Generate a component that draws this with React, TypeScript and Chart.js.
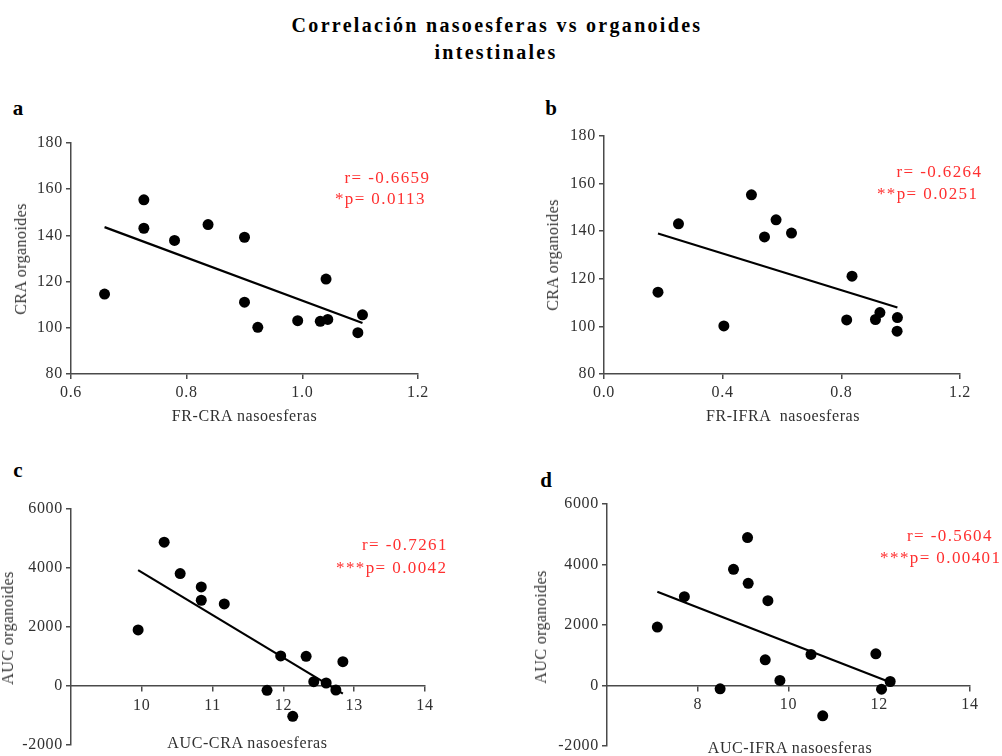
import { useEffect, useRef } from "react";
import { Chart, registerables } from "chart.js";

Chart.register(...registerables);

// Panel a: FR-CRA nasoesferas vs CRA organoides
const frCraNaso = [0.658, 0.726, 0.726, 0.779, 0.837, 0.9, 0.9, 0.923, 0.992, 1.031, 1.044, 1.041, 1.096, 1.104];
const craOrgA = [114.6, 155.4, 143.1, 137.8, 144.7, 139.2, 111.1, 100.2, 103.1, 102.8, 103.6, 121.1, 97.9, 105.6];

// Panel b: FR-IFRA nasoesferas vs CRA organoides
const frIfraNaso = [0.182, 0.251, 0.404, 0.497, 0.541, 0.58, 0.632, 0.836, 0.818, 0.915, 0.93, 0.989, 0.988];
const craOrgB = [114.4, 143.1, 100.2, 155.3, 137.6, 144.8, 139.2, 121.1, 102.7, 102.9, 105.8, 103.7, 98.0];

// Panel c: AUC-CRA nasoesferas vs AUC organoides
const aucCraNaso = [9.948, 10.316, 10.542, 10.84, 10.84, 11.165, 11.962, 12.321, 12.84, 12.429, 12.604, 12.741, 11.769, 12.132];
const aucOrgC = [1900, 4876, 3812, 3360, 2907, 2783, 1018, 1007, 826, 147, 102, -136, -147, -1029];

// Panel d: AUC-IFRA nasoesferas vs AUC organoides
const aucIfraNaso = [7.109, 7.705, 8.493, 8.788, 9.097, 9.112, 9.546, 9.487, 9.811, 10.496, 10.754, 11.925, 12.05, 12.241];
const aucOrgD = [1932, 2936, -110, 3841, 4890, 3377, 2803, 850, 166, 1026, -1004, 1049, -121, 132];

// Tick values
const ticksFrCra = [0.6, 0.8, 1.0, 1.2];
const ticksFrIfra = [0.0, 0.4, 0.8, 1.2];
const ticksCra = [80, 100, 120, 140, 160, 180];
const ticksAucCra = [10, 11, 12, 13, 14];
const ticksAucIfra = [8, 10, 12, 14];
const ticksAuc = [-2000, 0, 2000, 4000, 6000];

// Correlation statistics
const statsA = ["r= -0.6659", "*p= 0.0113"];
const statsB = ["r= -0.6264", "**p= 0.0251"];
const statsC = ["r= -0.7261", "***p= 0.0042"];
const statsD = ["r= -0.5604", "***p= 0.00401"];

const SERIF = "'Liberation Serif', 'Times New Roman', serif";
const AXIS_COLOR = "#4a4a4a";
const TEXT_COLOR = "#303030";
const RED = "#ff3030";

// Least-squares line across the observed x range
function fitLine(xs: number[], ys: number[]) {
  const n = xs.length;
  const mx = xs.reduce((a, b) => a + b, 0) / n;
  const my = ys.reduce((a, b) => a + b, 0) / n;
  let sxy = 0;
  let sxx = 0;
  for (let i = 0; i < n; i++) {
    sxy += (xs[i] - mx) * (ys[i] - my);
    sxx += (xs[i] - mx) * (xs[i] - mx);
  }
  const slope = sxy / sxx;
  const x0 = Math.min(...xs);
  const x1 = Math.max(...xs);
  return [
    { x: x0, y: my + slope * (x0 - mx) },
    { x: x1, y: my + slope * (x1 - mx) },
  ];
}

const tickSpacing = {
  id: "tickSpacing",
  beforeDraw(chart: any) {
    chart.ctx.letterSpacing = "0.7px";
  },
};

type PanelProps = {
  xs: number[];
  ys: number[];
  xTicks: number[];
  yTicks: number[];
  xMin: number;
  xMax: number;
  yMin: number;
  yMax: number;
  xDecimals: number;
  xAtZero: boolean;
  box: { left: number; top: number; width: number; height: number };
};

function ScatterPanel(p: PanelProps) {
  const ref = useRef<HTMLCanvasElement>(null);

  useEffect(() => {
    const tickFont = { family: SERIF, size: 16 };
    const gridOpts = {
      display: true,
      drawOnChartArea: false,
      drawTicks: true,
      tickLength: 5,
      color: AXIS_COLOR,
      lineWidth: 1.5,
    };
    const chart = new Chart(ref.current as HTMLCanvasElement, {
      type: "scatter",
      data: {
        datasets: [
          {
            data: fitLine(p.xs, p.ys),
            showLine: true,
            borderColor: "#000000",
            borderWidth: 2.2,
            pointRadius: 0,
            pointHoverRadius: 0,
            clip: false,
            order: 1,
          } as any,
          {
            data: p.xs.map((x, i) => ({ x, y: p.ys[i] })),
            backgroundColor: "#000000",
            borderColor: "#000000",
            borderWidth: 0,
            pointRadius: 5.5,
            pointHoverRadius: 5.5,
            clip: false,
            order: 0,
          } as any,
        ],
      },
      options: {
        animation: false,
        responsive: true,
        maintainAspectRatio: false,
        events: [],
        layout: { padding: { top: 20, right: 25, left: 0, bottom: p.xAtZero ? 20 : 0 } },
        plugins: { legend: { display: false }, tooltip: { enabled: false } },
        scales: {
          x: {
            type: "linear",
            min: p.xMin,
            max: p.xMax,
            position: p.xAtZero ? ({ y: 0 } as any) : "bottom",
            afterBuildTicks: (s: any) => {
              s.ticks = p.xTicks.map((v) => ({ value: v }));
            },
            afterFit: (s: any) => {
              s.height = p.xAtZero ? 0 : 40;
            },
            ticks: {
              font: tickFont,
              color: TEXT_COLOR,
              padding: p.xAtZero ? 5 : 4,
              autoSkip: false,
              maxRotation: 0,
              callback: (v: any) => Number(v).toFixed(p.xDecimals),
            },
            grid: gridOpts,
            border: { display: true, color: AXIS_COLOR, width: 1.5 },
          },
          y: {
            type: "linear",
            min: p.yMin,
            max: p.yMax,
            position: "left",
            afterBuildTicks: (s: any) => {
              s.ticks = p.yTicks.map((v) => ({ value: v }));
            },
            afterFit: (s: any) => {
              s.width = 60;
            },
            ticks: {
              font: tickFont,
              color: TEXT_COLOR,
              padding: 3,
              autoSkip: false,
              callback: (v: any) => String(Math.round(Number(v))),
            },
            grid: gridOpts,
            border: { display: true, color: AXIS_COLOR, width: 1.5 },
          },
        },
      },
      plugins: [tickSpacing],
    });
    return () => chart.destroy();
  }, []);

  return (
    <div
      style={{
        position: "absolute",
        left: p.box.left,
        top: p.box.top,
        width: p.box.width,
        height: p.box.height,
      }}
    >
      <canvas ref={ref} />
    </div>
  );
}

type TxtProps = {
  x: number;
  y: number;
  text: string;
  size: number;
  bold?: boolean;
  color?: string;
  ls?: number;
  anchor?: "center" | "right";
  rotate?: boolean;
};

function Txt({ x, y, text, size, bold, color, ls = 0, anchor = "center", rotate }: TxtProps) {
  const tx = anchor === "right" ? "-100%" : "-50%";
  return (
    <div
      style={{
        position: "absolute",
        left: anchor === "right" ? x + ls : x,
        top: y,
        transform: `translate(${tx}, -50%)${rotate ? " rotate(-90deg)" : ""}`,
        whiteSpace: "pre",
        fontFamily: SERIF,
        fontSize: size,
        fontWeight: bold ? "bold" : "normal",
        lineHeight: 1,
        letterSpacing: ls,
        color: color || TEXT_COLOR,
      }}
    >
      {text}
    </div>
  );
}

export default function App() {
  return (
    <div
      style={{
        position: "absolute",
        left: 0,
        top: 0,
        width: 1002,
        height: 756,
        overflow: "hidden",
        background: "#ffffff",
      }}
    >
      <Txt x={497} y={24.5} text="Correlación nasoesferas vs organoides" size={20} bold color="#000" ls={2.3} />
      <Txt x={496} y={51.5} text="intestinales" size={20} bold color="#000" ls={2.3} />

      <Txt x={18} y={108} text="a" size={21} bold color="#000" />
      <Txt x={551} y={108} text="b" size={21} bold color="#000" />
      <Txt x={18} y={470} text="c" size={21} bold color="#000" />
      <Txt x={546} y={480} text="d" size={21} bold color="#000" />

      <ScatterPanel
        xs={frCraNaso}
        ys={craOrgA}
        xTicks={ticksFrCra}
        yTicks={ticksCra}
        xMin={0.6}
        xMax={1.2}
        yMin={80}
        yMax={180}
        xDecimals={1}
        xAtZero={false}
        box={{ left: 11, top: 123, width: 432, height: 291 }}
      />
      <ScatterPanel
        xs={frIfraNaso}
        ys={craOrgB}
        xTicks={ticksFrIfra}
        yTicks={ticksCra}
        xMin={0}
        xMax={1.2}
        yMin={80}
        yMax={180}
        xDecimals={1}
        xAtZero={false}
        box={{ left: 544, top: 116, width: 441, height: 298 }}
      />
      <ScatterPanel
        xs={aucCraNaso}
        ys={aucOrgC}
        xTicks={ticksAucCra}
        yTicks={ticksAuc}
        xMin={9}
        xMax={14}
        yMin={-2000}
        yMax={6000}
        xDecimals={0}
        xAtZero={true}
        box={{ left: 11, top: 489, width: 439, height: 276 }}
      />
      <ScatterPanel
        xs={aucIfraNaso}
        ys={aucOrgD}
        xTicks={ticksAucIfra}
        yTicks={ticksAuc}
        xMin={6}
        xMax={14}
        yMin={-2000}
        yMax={6000}
        xDecimals={0}
        xAtZero={true}
        box={{ left: 547, top: 484, width: 448, height: 282 }}
      />

      {/* axis titles */}
      <Txt x={20.5} y={258.5} text="CRA organoides" size={16} ls={0.4} rotate />
      <Txt x={244.5} y={415.5} text="FR-CRA nasoesferas" size={16} ls={0.6} />
      <Txt x={552.5} y={255} text="CRA organoides" size={16} ls={0.4} rotate />
      <Txt x={783} y={416} text="FR-IFRA  nasoesferas" size={16} ls={0.6} />
      <Txt x={7.5} y={628} text="AUC organoides" size={16} ls={0.4} rotate />
      <Txt x={247.5} y={743} text="AUC-CRA nasoesferas" size={16} ls={0.6} />
      <Txt x={540.5} y={626.5} text="AUC organoides" size={16} ls={0.4} rotate />
      <Txt x={790} y={748} text="AUC-IFRA nasoesferas" size={16} ls={0.6} />

      {/* correlation statistics */}
      <Txt x={429} y={176.5} text={statsA[0]} size={17} color={RED} ls={1.4} anchor="right" />
      <Txt x={424.5} y={197.5} text={statsA[1]} size={17} color={RED} ls={1.4} anchor="right" />
      <Txt x={981} y={171} text={statsB[0]} size={17} color={RED} ls={1.4} anchor="right" />
      <Txt x={977} y={193} text={statsB[1]} size={17} color={RED} ls={1.4} anchor="right" />
      <Txt x={446.5} y={544} text={statsC[0]} size={17} color={RED} ls={1.4} anchor="right" />
      <Txt x={446} y={566.5} text={statsC[1]} size={17} color={RED} ls={1.4} anchor="right" />
      <Txt x={991.5} y={534.5} text={statsD[0]} size={17} color={RED} ls={1.4} anchor="right" />
      <Txt x={1000} y={556.5} text={statsD[1]} size={17} color={RED} ls={1.4} anchor="right" />
    </div>
  );
}
